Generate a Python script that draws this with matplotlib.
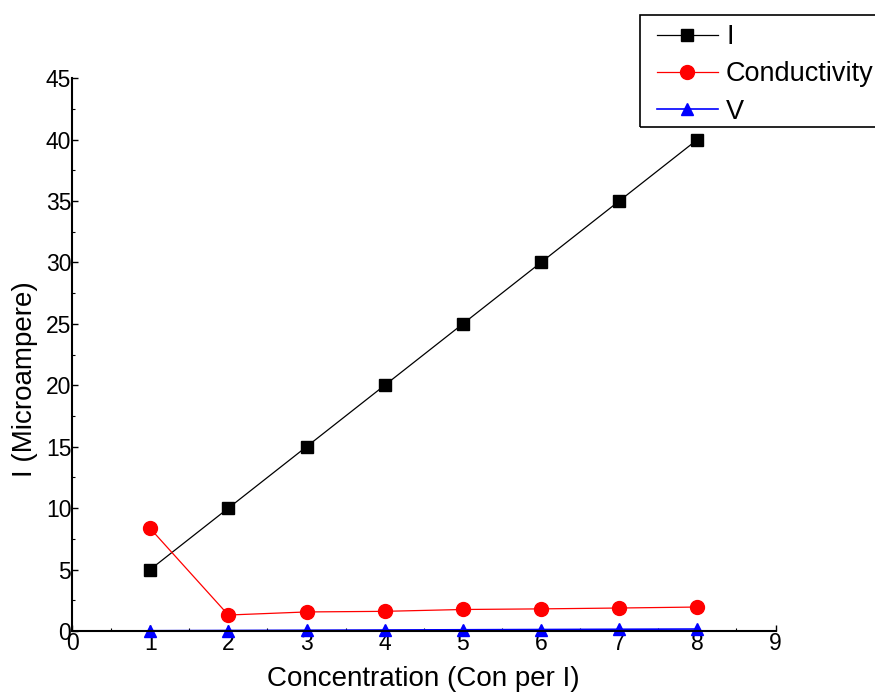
import numpy as np
import matplotlib.pyplot as plt
from matplotlib.patches import Rectangle

plt.rcParams['font.family'] = ['Liberation Sans', 'DejaVu Sans']

# data
conc = [1, 2, 3, 4, 5, 6, 7, 8]
current = [5, 10, 15, 20, 25, 30, 35, 40]
conductivity = [8.35, 1.3, 1.55, 1.6, 1.75, 1.8, 1.87, 1.95]
volt = [0.02, 0.04, 0.06, 0.08, 0.1, 0.12, 0.14, 0.16]

tick_fs = 16.5
label_fs = 20
legend_fs = 19.5

W, H = 875, 698
fig = plt.figure(figsize=(W / 100, H / 100), dpi=100)
ax = fig.add_axes([0.0823, 0.096, 0.804, 0.792])

ax.plot(conc, current, color='black', marker='s', markersize=8, lw=0.9, label='I')
ax.plot(conc, conductivity, color='red', marker='o', markersize=10, lw=0.9, label='Conductivity')
ax.plot(conc, volt, color='blue', marker='^', markersize=9, lw=1.2, label='V', clip_on=False)

ax.set_xlim(0, 9)
ax.set_ylim(0, 45)
ax.set_xticks(range(0, 10))
ax.set_yticks(range(0, 46, 5))
ax.set_xticks(np.arange(0.5, 9, 1), minor=True)
ax.set_yticks(np.arange(2.5, 45, 5), minor=True)
ax.tick_params(which='both', direction='in', labelsize=tick_fs, pad=0.5)
ax.tick_params(which='major', length=4, width=1)
ax.tick_params(which='minor', length=2.5, width=0.8)

for s in ['top', 'right']:
    ax.spines[s].set_visible(False)
for s in ['left', 'bottom']:
    ax.spines[s].set_linewidth(1.5)

ax.set_xlabel('Concentration (Con per I)', fontsize=label_fs, labelpad=8)
ax.set_ylabel('I (Microampere)', fontsize=label_fs)
ax.yaxis.set_label_coords(-0.048, 0.455)

# legend frame drawn by hand so the inner padding matches the original
fig.patches.append(Rectangle((640 / W, 1 - 127 / H), 250 / W, 112 / H,
                             transform=fig.transFigure, fill=False,
                             edgecolor='black', lw=1.2))
leg = fig.legend(loc='upper left', bbox_to_anchor=(657 / W, 1 - 24 / H),
                 fontsize=legend_fs, frameon=False,
                 handlelength=2.25, handletextpad=0.3, borderpad=0, labelspacing=0.42,
                 borderaxespad=0)

fig.savefig('out.png', dpi=100)
